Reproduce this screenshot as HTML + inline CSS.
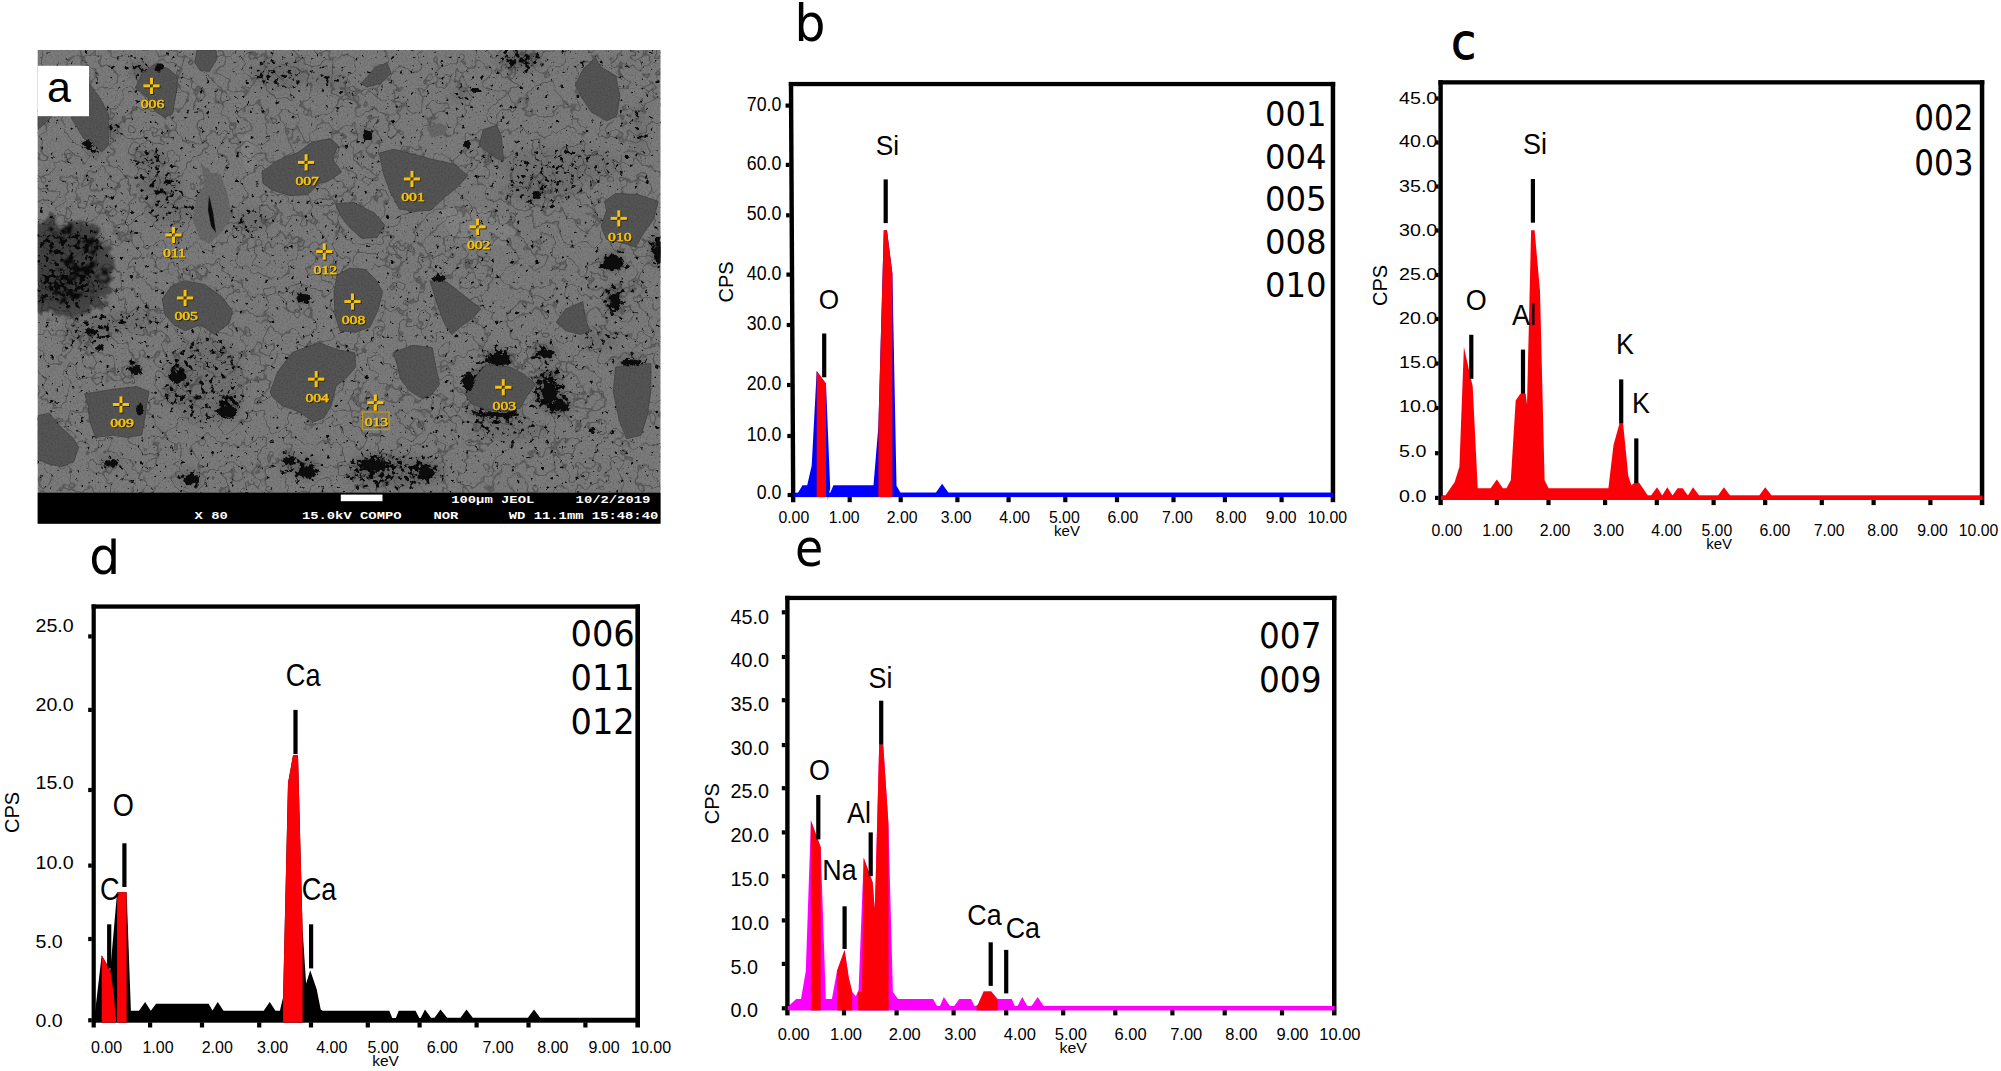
<!DOCTYPE html>
<html><head><meta charset="utf-8"><title>Figure</title>
<style>html,body{margin:0;padding:0;background:#fff;overflow:hidden}svg{display:block}text{fill:#000}</style>
</head><body>
<svg width="2001" height="1071" viewBox="0 0 2001 1071">
<rect width="2001" height="1071" fill="#fff"/>
<defs>
<clipPath id="semclip"><rect x="37.7" y="50.0" width="622.8" height="442.7"/></clipPath>
<filter id="spk" filterUnits="userSpaceOnUse" x="30" y="45" width="640" height="455" color-interpolation-filters="sRGB">
<feGaussianBlur in="SourceAlpha" stdDeviation="5" result="D"/>
<feTurbulence type="fractalNoise" baseFrequency="0.2" numOctaves="3" seed="7" result="T"/>
<feColorMatrix in="T" type="matrix" values="0 0 0 0 0  0 0 0 0 0  0 0 0 0 0  1 0 0 0 0" result="N"/>
<feComposite in="D" in2="N" operator="arithmetic" k1="0" k2="0.22" k3="0.6" k4="0" result="S"/>
<feComponentTransfer in="S"><feFuncR type="linear" slope="0" intercept="0.04"/><feFuncG type="linear" slope="0" intercept="0.04"/><feFuncB type="linear" slope="0" intercept="0.04"/><feFuncA type="linear" slope="16" intercept="-6.6"/></feComponentTransfer>
<feGaussianBlur stdDeviation="0.55"/>
</filter>
<filter id="crk" filterUnits="userSpaceOnUse" x="30" y="45" width="640" height="455" color-interpolation-filters="sRGB">
<feTurbulence type="fractalNoise" baseFrequency="0.045" numOctaves="3" seed="21" result="T"/>
<feColorMatrix in="T" type="matrix" values="0 0 0 0 0  0 0 0 0 0  0 0 0 0 0  1 0 0 0 0" result="N"/>
<feComponentTransfer in="N"><feFuncA type="table" tableValues="0 0 0 0 0 0 0 0 0 0 0 0 0 0 0 0.9 0 0 0 0 0 0 0 0 0 0 0 0 0 0 0"/></feComponentTransfer>
<feComposite in2="SourceAlpha" operator="in"/>
</filter>
<filter id="fine" filterUnits="userSpaceOnUse" x="30" y="45" width="640" height="455" color-interpolation-filters="sRGB">
<feTurbulence type="fractalNoise" baseFrequency="0.6" numOctaves="1" seed="4" result="T"/>
<feColorMatrix in="T" type="matrix" values="0 0 0 0 0  0 0 0 0 0  0 0 0 0 0  1.0 0 0 0 -0.42"/>
<feComposite in2="SourceAlpha" operator="in"/>
</filter>
<filter id="ublur" filterUnits="userSpaceOnUse" x="30" y="45" width="640" height="455"><feGaussianBlur stdDeviation="4"/></filter>
<filter id="rag" filterUnits="userSpaceOnUse" x="30" y="45" width="640" height="455">
<feTurbulence type="fractalNoise" baseFrequency="0.09" numOctaves="3" seed="11" result="T"/>
<feDisplacementMap in="SourceGraphic" in2="T" scale="30" xChannelSelector="R" yChannelSelector="G"/>
<feGaussianBlur stdDeviation="0.8"/>
</filter>
<filter id="rag2" filterUnits="userSpaceOnUse" x="30" y="45" width="640" height="455">
<feTurbulence type="fractalNoise" baseFrequency="0.25" numOctaves="2" seed="5" result="T"/>
<feDisplacementMap in="SourceGraphic" in2="T" scale="6" xChannelSelector="R" yChannelSelector="G"/>
<feGaussianBlur stdDeviation="0.7"/>
</filter>
<filter id="soft" x="-10%" y="-10%" width="120%" height="120%"><feGaussianBlur stdDeviation="0.6"/></filter>
<filter id="lblsh" x="-30%" y="-40%" width="170%" height="190%">
<feOffset in="SourceAlpha" dx="0.9" dy="0.9" result="o"/><feGaussianBlur in="o" stdDeviation="0.45" result="b"/>
<feFlood flood-color="#2a2204"/><feComposite in2="b" operator="in" result="sh"/>
<feMerge><feMergeNode in="sh"/><feMergeNode in="SourceGraphic"/></feMerge></filter>
<filter id="msh" x="-30%" y="-30%" width="160%" height="160%"><feGaussianBlur stdDeviation="0.45"/></filter>
</defs>
<g id="sem">
<rect x="37.7" y="50.0" width="622.8" height="473.7" fill="#7c7c7c"/>
<g clip-path="url(#semclip)">
<polygon points="439.0,210.0 470.0,206.0 497.0,214.0 516.0,232.0 505.0,246.0 478.0,244.0 452.0,236.0" fill="#838383"/>
<polygon points="241.0,140.0 247.0,132.0 253.0,140.0 255.0,165.0 247.0,172.0 243.0,160.0" fill="#838383"/>
<g filter="url(#rag)">
<polygon points="30.0,226.0 50.0,218.0 66.0,228.0 80.0,220.0 96.0,230.0 108.0,246.0 116.0,266.0 112.0,288.0 104.0,304.0 90.0,314.0 70.0,318.0 50.0,314.0 30.0,308.0" fill="#383838" fill-opacity="0.72"/>
<ellipse cx="80.0" cy="270.0" rx="13.0" ry="7.0" fill="#080808"/>
<ellipse cx="92.0" cy="242.0" rx="5.0" ry="7.0" fill="#080808"/>
<ellipse cx="62.0" cy="232.0" rx="9.0" ry="4.0" fill="#080808"/>
<ellipse cx="68.0" cy="296.0" rx="7.0" ry="5.0" fill="#080808"/>
<ellipse cx="104.0" cy="276.0" rx="3.0" ry="9.0" fill="#080808"/>
</g>
<g filter="url(#ublur)" opacity="0.28"><ellipse cx="66.0" cy="264.0" rx="30.0" ry="36.0" fill="#000" fill-opacity="0.40"/><ellipse cx="52.0" cy="290.0" rx="20.0" ry="16.0" fill="#000" fill-opacity="0.40"/><ellipse cx="88.0" cy="240.0" rx="16.0" ry="12.0" fill="#000" fill-opacity="0.40"/><ellipse cx="80.0" cy="287.0" rx="20.0" ry="18.0" fill="#000" fill-opacity="0.40"/><ellipse cx="48.0" cy="238.0" rx="12.0" ry="12.0" fill="#000" fill-opacity="0.30"/><ellipse cx="140.0" cy="70.0" rx="10.0" ry="8.0" fill="#000" fill-opacity="0.70"/><ellipse cx="112.0" cy="130.0" rx="8.0" ry="10.0" fill="#000" fill-opacity="0.60"/><ellipse cx="150.0" cy="160.0" rx="18.0" ry="10.0" fill="#000" fill-opacity="0.50"/><ellipse cx="160.0" cy="185.0" rx="22.0" ry="12.0" fill="#000" fill-opacity="0.45"/><ellipse cx="95.0" cy="150.0" rx="6.0" ry="5.0" fill="#000" fill-opacity="1.00"/><ellipse cx="213.0" cy="218.0" rx="5.0" ry="16.0" fill="#000" fill-opacity="1.00" transform="rotate(-10 213.0 218.0)"/><ellipse cx="205.0" cy="200.0" rx="4.0" ry="10.0" fill="#000" fill-opacity="0.70"/><ellipse cx="280.0" cy="75.0" rx="30.0" ry="14.0" fill="#000" fill-opacity="0.35"/><ellipse cx="330.0" cy="80.0" rx="18.0" ry="10.0" fill="#000" fill-opacity="0.30"/><ellipse cx="520.0" cy="60.0" rx="22.0" ry="9.0" fill="#000" fill-opacity="0.70"/><ellipse cx="460.0" cy="95.0" rx="10.0" ry="5.0" fill="#000" fill-opacity="0.50"/><ellipse cx="367.0" cy="134.0" rx="5.0" ry="5.5" fill="#000" fill-opacity="1.00"/><ellipse cx="490.0" cy="150.0" rx="5.0" ry="12.0" fill="#000" fill-opacity="0.60"/><ellipse cx="560.0" cy="165.0" rx="60.0" ry="18.0" fill="#000" fill-opacity="0.25"/><ellipse cx="540.0" cy="190.0" rx="40.0" ry="12.0" fill="#000" fill-opacity="0.30"/><ellipse cx="533.0" cy="196.0" rx="4.0" ry="4.0" fill="#000" fill-opacity="1.00"/><ellipse cx="612.0" cy="262.0" rx="11.0" ry="9.0" fill="#000" fill-opacity="1.00"/><ellipse cx="657.0" cy="250.0" rx="6.0" ry="16.0" fill="#000" fill-opacity="1.00"/><ellipse cx="640.0" cy="130.0" rx="6.0" ry="30.0" fill="#000" fill-opacity="0.30"/><ellipse cx="302.0" cy="296.0" rx="7.0" ry="5.0" fill="#000" fill-opacity="1.00"/><ellipse cx="250.0" cy="220.0" rx="20.0" ry="12.0" fill="#000" fill-opacity="0.30"/><ellipse cx="170.0" cy="210.0" rx="25.0" ry="14.0" fill="#000" fill-opacity="0.30"/><ellipse cx="134.0" cy="369.0" rx="6.0" ry="5.0" fill="#000" fill-opacity="1.00"/><ellipse cx="205.0" cy="380.0" rx="40.0" ry="45.0" fill="#000" fill-opacity="0.28"/><ellipse cx="178.0" cy="372.0" rx="10.0" ry="7.0" fill="#000" fill-opacity="0.90"/><ellipse cx="228.0" cy="408.0" rx="11.0" ry="9.0" fill="#000" fill-opacity="1.00"/><ellipse cx="170.0" cy="395.0" rx="10.0" ry="8.0" fill="#000" fill-opacity="0.40"/><ellipse cx="482.0" cy="385.0" rx="12.0" ry="18.0" fill="#000" fill-opacity="0.90"/><ellipse cx="498.0" cy="358.0" rx="14.0" ry="9.0" fill="#000" fill-opacity="1.00"/><ellipse cx="548.0" cy="390.0" rx="14.0" ry="22.0" fill="#000" fill-opacity="0.80"/><ellipse cx="560.0" cy="405.0" rx="12.0" ry="8.0" fill="#000" fill-opacity="0.90"/><ellipse cx="495.0" cy="413.0" rx="28.0" ry="5.0" fill="#000" fill-opacity="0.90"/><ellipse cx="545.0" cy="352.0" rx="12.0" ry="8.0" fill="#000" fill-opacity="0.70"/><ellipse cx="510.0" cy="430.0" rx="40.0" ry="10.0" fill="#000" fill-opacity="0.30"/><ellipse cx="395.0" cy="472.0" rx="50.0" ry="16.0" fill="#000" fill-opacity="0.50"/><ellipse cx="372.0" cy="464.0" rx="18.0" ry="9.0" fill="#000" fill-opacity="0.90"/><ellipse cx="425.0" cy="470.0" rx="12.0" ry="8.0" fill="#000" fill-opacity="0.70"/><ellipse cx="306.0" cy="471.0" rx="10.0" ry="7.0" fill="#000" fill-opacity="1.00"/><ellipse cx="288.0" cy="459.0" rx="6.0" ry="5.0" fill="#000" fill-opacity="1.00"/><ellipse cx="300.0" cy="465.0" rx="22.0" ry="10.0" fill="#000" fill-opacity="0.40"/><ellipse cx="190.0" cy="478.0" rx="12.0" ry="10.0" fill="#000" fill-opacity="0.50"/><ellipse cx="110.0" cy="462.0" rx="10.0" ry="6.0" fill="#000" fill-opacity="0.50"/><ellipse cx="90.0" cy="330.0" rx="25.0" ry="15.0" fill="#000" fill-opacity="0.35"/><ellipse cx="130.0" cy="320.0" rx="30.0" ry="10.0" fill="#000" fill-opacity="0.30"/><ellipse cx="614.0" cy="300.0" rx="9.0" ry="16.0" fill="#000" fill-opacity="0.70"/><ellipse cx="630.0" cy="362.0" rx="16.0" ry="5.0" fill="#000" fill-opacity="0.70"/><ellipse cx="600.0" cy="340.0" rx="20.0" ry="10.0" fill="#000" fill-opacity="0.30"/></g>
<g filter="url(#spk)"><rect x="30" y="45" width="640" height="455" fill="#fff" fill-opacity="0.0"/><ellipse cx="66.0" cy="264.0" rx="30.0" ry="36.0" fill="#fff" fill-opacity="0.40"/><ellipse cx="52.0" cy="290.0" rx="20.0" ry="16.0" fill="#fff" fill-opacity="0.40"/><ellipse cx="88.0" cy="240.0" rx="16.0" ry="12.0" fill="#fff" fill-opacity="0.40"/><ellipse cx="80.0" cy="287.0" rx="20.0" ry="18.0" fill="#fff" fill-opacity="0.40"/><ellipse cx="48.0" cy="238.0" rx="12.0" ry="12.0" fill="#fff" fill-opacity="0.30"/><ellipse cx="140.0" cy="70.0" rx="10.0" ry="8.0" fill="#fff" fill-opacity="0.70"/><ellipse cx="112.0" cy="130.0" rx="8.0" ry="10.0" fill="#fff" fill-opacity="0.60"/><ellipse cx="150.0" cy="160.0" rx="18.0" ry="10.0" fill="#fff" fill-opacity="0.50"/><ellipse cx="160.0" cy="185.0" rx="22.0" ry="12.0" fill="#fff" fill-opacity="0.45"/><ellipse cx="95.0" cy="150.0" rx="6.0" ry="5.0" fill="#fff" fill-opacity="1.00"/><ellipse cx="213.0" cy="218.0" rx="5.0" ry="16.0" fill="#fff" fill-opacity="1.00" transform="rotate(-10 213.0 218.0)"/><ellipse cx="205.0" cy="200.0" rx="4.0" ry="10.0" fill="#fff" fill-opacity="0.70"/><ellipse cx="280.0" cy="75.0" rx="30.0" ry="14.0" fill="#fff" fill-opacity="0.35"/><ellipse cx="330.0" cy="80.0" rx="18.0" ry="10.0" fill="#fff" fill-opacity="0.30"/><ellipse cx="520.0" cy="60.0" rx="22.0" ry="9.0" fill="#fff" fill-opacity="0.70"/><ellipse cx="460.0" cy="95.0" rx="10.0" ry="5.0" fill="#fff" fill-opacity="0.50"/><ellipse cx="367.0" cy="134.0" rx="5.0" ry="5.5" fill="#fff" fill-opacity="1.00"/><ellipse cx="490.0" cy="150.0" rx="5.0" ry="12.0" fill="#fff" fill-opacity="0.60"/><ellipse cx="560.0" cy="165.0" rx="60.0" ry="18.0" fill="#fff" fill-opacity="0.25"/><ellipse cx="540.0" cy="190.0" rx="40.0" ry="12.0" fill="#fff" fill-opacity="0.30"/><ellipse cx="533.0" cy="196.0" rx="4.0" ry="4.0" fill="#fff" fill-opacity="1.00"/><ellipse cx="612.0" cy="262.0" rx="11.0" ry="9.0" fill="#fff" fill-opacity="1.00"/><ellipse cx="657.0" cy="250.0" rx="6.0" ry="16.0" fill="#fff" fill-opacity="1.00"/><ellipse cx="640.0" cy="130.0" rx="6.0" ry="30.0" fill="#fff" fill-opacity="0.30"/><ellipse cx="302.0" cy="296.0" rx="7.0" ry="5.0" fill="#fff" fill-opacity="1.00"/><ellipse cx="250.0" cy="220.0" rx="20.0" ry="12.0" fill="#fff" fill-opacity="0.30"/><ellipse cx="170.0" cy="210.0" rx="25.0" ry="14.0" fill="#fff" fill-opacity="0.30"/><ellipse cx="134.0" cy="369.0" rx="6.0" ry="5.0" fill="#fff" fill-opacity="1.00"/><ellipse cx="205.0" cy="380.0" rx="40.0" ry="45.0" fill="#fff" fill-opacity="0.28"/><ellipse cx="178.0" cy="372.0" rx="10.0" ry="7.0" fill="#fff" fill-opacity="0.90"/><ellipse cx="228.0" cy="408.0" rx="11.0" ry="9.0" fill="#fff" fill-opacity="1.00"/><ellipse cx="170.0" cy="395.0" rx="10.0" ry="8.0" fill="#fff" fill-opacity="0.40"/><ellipse cx="482.0" cy="385.0" rx="12.0" ry="18.0" fill="#fff" fill-opacity="0.90"/><ellipse cx="498.0" cy="358.0" rx="14.0" ry="9.0" fill="#fff" fill-opacity="1.00"/><ellipse cx="548.0" cy="390.0" rx="14.0" ry="22.0" fill="#fff" fill-opacity="0.80"/><ellipse cx="560.0" cy="405.0" rx="12.0" ry="8.0" fill="#fff" fill-opacity="0.90"/><ellipse cx="495.0" cy="413.0" rx="28.0" ry="5.0" fill="#fff" fill-opacity="0.90"/><ellipse cx="545.0" cy="352.0" rx="12.0" ry="8.0" fill="#fff" fill-opacity="0.70"/><ellipse cx="510.0" cy="430.0" rx="40.0" ry="10.0" fill="#fff" fill-opacity="0.30"/><ellipse cx="395.0" cy="472.0" rx="50.0" ry="16.0" fill="#fff" fill-opacity="0.50"/><ellipse cx="372.0" cy="464.0" rx="18.0" ry="9.0" fill="#fff" fill-opacity="0.90"/><ellipse cx="425.0" cy="470.0" rx="12.0" ry="8.0" fill="#fff" fill-opacity="0.70"/><ellipse cx="306.0" cy="471.0" rx="10.0" ry="7.0" fill="#fff" fill-opacity="1.00"/><ellipse cx="288.0" cy="459.0" rx="6.0" ry="5.0" fill="#fff" fill-opacity="1.00"/><ellipse cx="300.0" cy="465.0" rx="22.0" ry="10.0" fill="#fff" fill-opacity="0.40"/><ellipse cx="190.0" cy="478.0" rx="12.0" ry="10.0" fill="#fff" fill-opacity="0.50"/><ellipse cx="110.0" cy="462.0" rx="10.0" ry="6.0" fill="#fff" fill-opacity="0.50"/><ellipse cx="90.0" cy="330.0" rx="25.0" ry="15.0" fill="#fff" fill-opacity="0.35"/><ellipse cx="130.0" cy="320.0" rx="30.0" ry="10.0" fill="#fff" fill-opacity="0.30"/><ellipse cx="614.0" cy="300.0" rx="9.0" ry="16.0" fill="#fff" fill-opacity="0.70"/><ellipse cx="630.0" cy="362.0" rx="16.0" ry="5.0" fill="#fff" fill-opacity="0.70"/><ellipse cx="600.0" cy="340.0" rx="20.0" ry="10.0" fill="#fff" fill-opacity="0.30"/></g>
<rect x="30" y="45" width="640" height="455" fill="#000" filter="url(#crk)" opacity="0.33"/>
<g filter="url(#soft)">
<polygon points="89.4,83.7 100.0,98.0 108.4,114.0 108.4,145.3 101.7,152.0 95.0,145.3 83.8,138.6 71.5,118.4 75.0,100.0" fill="#555555" stroke="#444" stroke-width="0.8" stroke-linejoin="round"/>
<polygon points="37.7,116.2 52.4,116.2 44.0,124.0 37.7,129.6" fill="#555555" stroke="#444" stroke-width="0.8" stroke-linejoin="round"/>
<polygon points="142.0,73.6 155.5,63.5 168.9,69.1 177.9,77.0 175.7,96.0 172.3,114.0 164.5,117.3 155.5,111.7 146.5,96.0 135.3,88.2" fill="#555555" stroke="#444" stroke-width="0.8" stroke-linejoin="round"/>
<polygon points="197.0,50.0 216.0,50.0 217.0,59.0 209.3,71.4 200.3,70.3 194.7,62.4" fill="#555555" stroke="#444" stroke-width="0.8" stroke-linejoin="round"/>
<polygon points="261.9,172.2 276.5,161.0 298.9,152.0 312.4,142.0 330.3,138.6 338.1,145.3 332.5,158.8 341.5,172.2 328.0,181.2 319.1,183.4 307.9,194.6 290.0,195.7 272.0,190.1 263.0,183.4" fill="#555555" stroke="#444" stroke-width="0.8" stroke-linejoin="round"/>
<polygon points="335.4,203.5 353.4,202.5 374.6,213.0 384.6,225.0 377.0,237.5 362.0,238.5 349.5,227.4 340.0,215.0" fill="#555555" stroke="#444" stroke-width="0.8" stroke-linejoin="round"/>
<polygon points="379.2,153.1 393.8,149.3 413.9,154.3 429.6,158.7 454.3,164.3 467.7,175.5 456.5,187.9 445.3,196.8 430.7,210.3 413.9,211.4 399.4,209.1 390.4,192.3 383.7,174.4" fill="#555555" stroke="#444" stroke-width="0.8" stroke-linejoin="round"/>
<polygon points="361.3,83.7 373.6,69.1 387.0,62.4 391.1,73.6 380.3,83.7 366.9,87.0" fill="#555555" stroke="#444" stroke-width="0.8" stroke-linejoin="round"/>
<polygon points="583.1,69.1 595.4,57.9 601.0,66.9 615.6,75.8 620.0,96.0 616.7,116.2 606.6,120.7 590.9,111.7 580.8,96.0 575.2,84.8" fill="#555555" stroke="#444" stroke-width="0.8" stroke-linejoin="round"/>
<polygon points="604.4,201.3 615.6,193.5 638.0,194.6 658.1,201.3 653.7,219.2 642.5,234.9 635.7,247.2 622.3,242.7 606.6,239.4 601.0,226.0 606.6,210.3" fill="#555555" stroke="#444" stroke-width="0.8" stroke-linejoin="round"/>
<polygon points="483.4,129.6 496.8,125.1 501.3,136.3 503.5,161.0 496.8,158.7 478.9,145.3" fill="#555555" stroke="#444" stroke-width="0.8" stroke-linejoin="round"/>
<polygon points="162.3,299.1 170.8,287.0 185.4,280.9 204.8,284.6 221.8,296.7 232.7,311.3 229.1,323.4 214.5,334.3 200.0,324.6 185.4,330.7 173.2,324.6 164.7,313.7" fill="#555555" stroke="#444" stroke-width="0.8" stroke-linejoin="round"/>
<polygon points="84.6,393.8 115.0,389.0 136.8,386.5 149.0,391.4 146.5,406.0 144.1,420.5 141.7,435.1 127.1,437.5 112.5,435.1 95.5,437.5 89.5,420.5 88.3,406.0" fill="#555555" stroke="#444" stroke-width="0.8" stroke-linejoin="round"/>
<polygon points="37.7,415.7 49.4,413.2 59.1,425.4 72.5,437.5 78.6,447.2 73.7,461.8 61.6,466.7 49.4,464.2 37.7,459.4" fill="#555555" stroke="#444" stroke-width="0.8" stroke-linejoin="round"/>
<polygon points="270.3,391.4 277.6,372.0 292.2,352.5 318.9,342.8 338.3,350.1 354.6,352.6 355.8,367.1 347.3,376.8 336.0,386.5 331.0,406.0 323.8,418.1 314.0,421.7 297.0,410.8 282.5,406.0 271.6,396.2" fill="#555555" stroke="#444" stroke-width="0.8" stroke-linejoin="round"/>
<polygon points="334.0,292.0 337.0,275.0 350.0,268.0 366.0,270.0 376.0,280.0 382.5,292.0 378.0,310.0 370.0,327.0 356.0,332.0 340.0,331.0 335.0,315.0" fill="#555555" stroke="#444" stroke-width="0.8" stroke-linejoin="round"/>
<polygon points="429.9,280.9 446.8,282.1 468.7,299.1 480.8,308.9 472.3,318.6 461.4,325.9 451.7,334.4 444.4,323.4 437.1,304.0 433.5,291.9" fill="#555555" stroke="#444" stroke-width="0.8" stroke-linejoin="round"/>
<polygon points="393.4,352.6 412.8,345.3 432.3,347.7 435.9,367.1 439.6,384.1 432.3,393.8 422.6,398.7 410.4,391.4 400.7,379.3 397.1,364.7" fill="#555555" stroke="#444" stroke-width="0.8" stroke-linejoin="round"/>
<polygon points="465.0,393.8 476.0,376.8 485.7,364.7 510.0,367.1 524.6,374.4 535.5,384.1 527.0,396.3 519.7,408.4 505.1,412.0 485.7,409.6 471.1,403.5" fill="#555555" stroke="#444" stroke-width="0.8" stroke-linejoin="round"/>
<polygon points="556.1,322.2 565.8,308.9 582.8,301.6 585.3,318.6 590.1,330.7 580.4,334.4 565.8,330.7" fill="#555555" stroke="#444" stroke-width="0.8" stroke-linejoin="round"/>
<polygon points="615.6,367.1 631.4,365.9 650.8,363.5 650.8,391.4 647.2,415.7 641.1,435.1 626.5,438.8 619.3,420.6 613.2,391.4" fill="#555555" stroke="#444" stroke-width="0.8" stroke-linejoin="round"/>
<polygon points="200.3,162.1 209.3,172.2 220.5,174.5 227.2,192.4 231.7,217.0 222.7,230.5 209.3,243.9 200.3,239.4 192.5,219.3 197.0,196.9 204.8,183.4" fill="#676767"/>
<polygon points="426.3,127.4 438.6,122.9 447.5,126.2 445.3,134.1 431.9,137.5" fill="#676767"/>
<path d="M209 195 L213 212 L216 233 L211 226 L208 210 Z" fill="#111"/>
</g>
<g filter="url(#rag2)">
<ellipse cx="368.0" cy="135.5" rx="5.0" ry="5.5" fill="#0a0a0a"/>
<ellipse cx="303.5" cy="297.5" rx="7.0" ry="4.5" fill="#0a0a0a"/>
<ellipse cx="135.5" cy="370.5" rx="6.0" ry="4.5" fill="#0a0a0a"/>
<ellipse cx="307.5" cy="472.5" rx="9.0" ry="6.0" fill="#0a0a0a"/>
<ellipse cx="288.5" cy="460.5" rx="5.0" ry="4.0" fill="#0a0a0a"/>
<ellipse cx="613.5" cy="263.5" rx="10.0" ry="7.0" fill="#0a0a0a"/>
<ellipse cx="658.5" cy="251.5" rx="3.5" ry="13.0" fill="#0a0a0a"/>
<ellipse cx="159.5" cy="67.5" rx="4.0" ry="4.0" fill="#0a0a0a"/>
<ellipse cx="87.5" cy="144.5" rx="5.0" ry="4.5" fill="#0a0a0a"/>
<ellipse cx="537.0" cy="194.5" rx="3.0" ry="3.5" fill="#0a0a0a"/>
<ellipse cx="476.5" cy="90.5" rx="5.0" ry="2.5" fill="#0a0a0a"/>
<ellipse cx="467.5" cy="144.5" rx="3.5" ry="4.5" fill="#0a0a0a"/>
<ellipse cx="499.5" cy="359.5" rx="10.0" ry="6.0" fill="#0a0a0a"/>
<ellipse cx="468.5" cy="381.5" rx="6.0" ry="10.0" fill="#0a0a0a"/>
<ellipse cx="549.5" cy="393.5" rx="7.0" ry="11.0" fill="#0a0a0a"/>
<ellipse cx="227.5" cy="411.5" rx="10.0" ry="6.0" fill="#0a0a0a"/>
<ellipse cx="177.5" cy="377.5" rx="8.0" ry="4.5" fill="#0a0a0a"/>
<ellipse cx="139.5" cy="409.5" rx="3.5" ry="6.0" fill="#0a0a0a"/>
<ellipse cx="439.5" cy="278.5" rx="7.0" ry="3.5" fill="#0a0a0a"/>
<ellipse cx="591.5" cy="430.5" rx="3.0" ry="3.0" fill="#0a0a0a"/>
<ellipse cx="561.5" cy="406.5" rx="8.0" ry="5.0" fill="#0a0a0a"/>
<ellipse cx="373.5" cy="465.5" rx="12.0" ry="6.0" fill="#0a0a0a"/>
<ellipse cx="426.5" cy="471.5" rx="8.0" ry="5.0" fill="#0a0a0a"/>
<ellipse cx="191.5" cy="479.5" rx="7.0" ry="5.0" fill="#0a0a0a"/>
<ellipse cx="615.5" cy="301.5" rx="5.0" ry="9.0" fill="#0a0a0a"/>
<ellipse cx="631.5" cy="362.5" rx="10.0" ry="3.0" fill="#0a0a0a"/>
<ellipse cx="496.5" cy="414.5" rx="22.0" ry="2.5" fill="#0a0a0a"/>
<ellipse cx="111.5" cy="463.5" rx="7.0" ry="3.5" fill="#0a0a0a"/>
<ellipse cx="91.5" cy="331.5" rx="6.0" ry="4.0" fill="#0a0a0a"/>
<ellipse cx="99.5" cy="347.5" rx="4.0" ry="3.5" fill="#0a0a0a"/>
<ellipse cx="546.5" cy="353.5" rx="8.0" ry="4.0" fill="#0a0a0a"/>
</g>
<rect x="30" y="45" width="640" height="455" fill="#000" filter="url(#fine)" opacity="0.4"/>
</g>
<g filter="url(#msh)"><rect x="144.3" y="85.3" width="6.6" height="3.0" fill="#2a2204"/><rect x="153.9" y="85.3" width="6.6" height="3.0" fill="#2a2204"/><rect x="150.9" y="78.7" width="3.0" height="6.6" fill="#2a2204"/><rect x="150.9" y="88.3" width="3.0" height="6.6" fill="#2a2204"/></g>
<rect x="143.4" y="84.4" width="6.6" height="3.0" fill="#f6c20a"/><rect x="153.0" y="84.4" width="6.6" height="3.0" fill="#f6c20a"/><rect x="150.0" y="77.8" width="3.0" height="6.6" fill="#f6c20a"/><rect x="150.0" y="87.4" width="3.0" height="6.6" fill="#f6c20a"/>
<g filter="url(#lblsh)"><text transform="translate(152.5 108.3) scale(1.3 1)" font-size="12" text-anchor="middle" font-family='"Liberation Serif", "DejaVu Serif", serif' style="fill:#f6c20a;stroke:#f6c20a;stroke-width:0.45px">006</text></g>
<g filter="url(#msh)"><rect x="298.9" y="161.8" width="6.6" height="3.0" fill="#2a2204"/><rect x="308.5" y="161.8" width="6.6" height="3.0" fill="#2a2204"/><rect x="305.5" y="155.2" width="3.0" height="6.6" fill="#2a2204"/><rect x="305.5" y="164.8" width="3.0" height="6.6" fill="#2a2204"/></g>
<rect x="298.0" y="160.9" width="6.6" height="3.0" fill="#f6c20a"/><rect x="307.6" y="160.9" width="6.6" height="3.0" fill="#f6c20a"/><rect x="304.6" y="154.3" width="3.0" height="6.6" fill="#f6c20a"/><rect x="304.6" y="163.9" width="3.0" height="6.6" fill="#f6c20a"/>
<g filter="url(#lblsh)"><text transform="translate(307.1 184.8) scale(1.3 1)" font-size="12" text-anchor="middle" font-family='"Liberation Serif", "DejaVu Serif", serif' style="fill:#f6c20a;stroke:#f6c20a;stroke-width:0.45px">007</text></g>
<g filter="url(#msh)"><rect x="404.8" y="178.4" width="6.6" height="3.0" fill="#2a2204"/><rect x="414.4" y="178.4" width="6.6" height="3.0" fill="#2a2204"/><rect x="411.4" y="171.8" width="3.0" height="6.6" fill="#2a2204"/><rect x="411.4" y="181.4" width="3.0" height="6.6" fill="#2a2204"/></g>
<rect x="403.9" y="177.5" width="6.6" height="3.0" fill="#f6c20a"/><rect x="413.5" y="177.5" width="6.6" height="3.0" fill="#f6c20a"/><rect x="410.5" y="170.9" width="3.0" height="6.6" fill="#f6c20a"/><rect x="410.5" y="180.5" width="3.0" height="6.6" fill="#f6c20a"/>
<g filter="url(#lblsh)"><text transform="translate(413.0 201.4) scale(1.3 1)" font-size="12" text-anchor="middle" font-family='"Liberation Serif", "DejaVu Serif", serif' style="fill:#f6c20a;stroke:#f6c20a;stroke-width:0.45px">001</text></g>
<g filter="url(#msh)"><rect x="470.4" y="226.3" width="6.6" height="3.0" fill="#2a2204"/><rect x="480.0" y="226.3" width="6.6" height="3.0" fill="#2a2204"/><rect x="477.0" y="219.7" width="3.0" height="6.6" fill="#2a2204"/><rect x="477.0" y="229.3" width="3.0" height="6.6" fill="#2a2204"/></g>
<rect x="469.5" y="225.4" width="6.6" height="3.0" fill="#f6c20a"/><rect x="479.1" y="225.4" width="6.6" height="3.0" fill="#f6c20a"/><rect x="476.1" y="218.8" width="3.0" height="6.6" fill="#f6c20a"/><rect x="476.1" y="228.4" width="3.0" height="6.6" fill="#f6c20a"/>
<g filter="url(#lblsh)"><text transform="translate(478.6 249.3) scale(1.3 1)" font-size="12" text-anchor="middle" font-family='"Liberation Serif", "DejaVu Serif", serif' style="fill:#f6c20a;stroke:#f6c20a;stroke-width:0.45px">002</text></g>
<g filter="url(#msh)"><rect x="611.6" y="217.8" width="6.6" height="3.0" fill="#2a2204"/><rect x="621.2" y="217.8" width="6.6" height="3.0" fill="#2a2204"/><rect x="618.2" y="211.2" width="3.0" height="6.6" fill="#2a2204"/><rect x="618.2" y="220.8" width="3.0" height="6.6" fill="#2a2204"/></g>
<rect x="610.7" y="216.9" width="6.6" height="3.0" fill="#f6c20a"/><rect x="620.3" y="216.9" width="6.6" height="3.0" fill="#f6c20a"/><rect x="617.3" y="210.3" width="3.0" height="6.6" fill="#f6c20a"/><rect x="617.3" y="219.9" width="3.0" height="6.6" fill="#f6c20a"/>
<g filter="url(#lblsh)"><text transform="translate(619.8 240.8) scale(1.3 1)" font-size="12" text-anchor="middle" font-family='"Liberation Serif", "DejaVu Serif", serif' style="fill:#f6c20a;stroke:#f6c20a;stroke-width:0.45px">010</text></g>
<g filter="url(#msh)"><rect x="166.3" y="234.4" width="6.6" height="3.0" fill="#2a2204"/><rect x="175.9" y="234.4" width="6.6" height="3.0" fill="#2a2204"/><rect x="172.9" y="227.8" width="3.0" height="6.6" fill="#2a2204"/><rect x="172.9" y="237.4" width="3.0" height="6.6" fill="#2a2204"/></g>
<rect x="165.4" y="233.5" width="6.6" height="3.0" fill="#f6c20a"/><rect x="175.0" y="233.5" width="6.6" height="3.0" fill="#f6c20a"/><rect x="172.0" y="226.9" width="3.0" height="6.6" fill="#f6c20a"/><rect x="172.0" y="236.5" width="3.0" height="6.6" fill="#f6c20a"/>
<g filter="url(#lblsh)"><text transform="translate(174.5 257.4) scale(1.3 1)" font-size="12" text-anchor="middle" font-family='"Liberation Serif", "DejaVu Serif", serif' style="fill:#f6c20a;stroke:#f6c20a;stroke-width:0.45px">011</text></g>
<g filter="url(#msh)"><rect x="317.1" y="251.0" width="6.6" height="3.0" fill="#2a2204"/><rect x="326.7" y="251.0" width="6.6" height="3.0" fill="#2a2204"/><rect x="323.7" y="244.4" width="3.0" height="6.6" fill="#2a2204"/><rect x="323.7" y="254.0" width="3.0" height="6.6" fill="#2a2204"/></g>
<rect x="316.2" y="250.1" width="6.6" height="3.0" fill="#f6c20a"/><rect x="325.8" y="250.1" width="6.6" height="3.0" fill="#f6c20a"/><rect x="322.8" y="243.5" width="3.0" height="6.6" fill="#f6c20a"/><rect x="322.8" y="253.1" width="3.0" height="6.6" fill="#f6c20a"/>
<g filter="url(#lblsh)"><text transform="translate(325.3 274.0) scale(1.3 1)" font-size="12" text-anchor="middle" font-family='"Liberation Serif", "DejaVu Serif", serif' style="fill:#f6c20a;stroke:#f6c20a;stroke-width:0.45px">012</text></g>
<g filter="url(#msh)"><rect x="177.9" y="297.4" width="6.6" height="3.0" fill="#2a2204"/><rect x="187.5" y="297.4" width="6.6" height="3.0" fill="#2a2204"/><rect x="184.5" y="290.8" width="3.0" height="6.6" fill="#2a2204"/><rect x="184.5" y="300.4" width="3.0" height="6.6" fill="#2a2204"/></g>
<rect x="177.0" y="296.5" width="6.6" height="3.0" fill="#f6c20a"/><rect x="186.6" y="296.5" width="6.6" height="3.0" fill="#f6c20a"/><rect x="183.6" y="289.9" width="3.0" height="6.6" fill="#f6c20a"/><rect x="183.6" y="299.5" width="3.0" height="6.6" fill="#f6c20a"/>
<g filter="url(#lblsh)"><text transform="translate(186.1 320.4) scale(1.3 1)" font-size="12" text-anchor="middle" font-family='"Liberation Serif", "DejaVu Serif", serif' style="fill:#f6c20a;stroke:#f6c20a;stroke-width:0.45px">005</text></g>
<g filter="url(#msh)"><rect x="345.3" y="301.0" width="6.6" height="3.0" fill="#2a2204"/><rect x="354.9" y="301.0" width="6.6" height="3.0" fill="#2a2204"/><rect x="351.9" y="294.4" width="3.0" height="6.6" fill="#2a2204"/><rect x="351.9" y="304.0" width="3.0" height="6.6" fill="#2a2204"/></g>
<rect x="344.4" y="300.1" width="6.6" height="3.0" fill="#f6c20a"/><rect x="354.0" y="300.1" width="6.6" height="3.0" fill="#f6c20a"/><rect x="351.0" y="293.5" width="3.0" height="6.6" fill="#f6c20a"/><rect x="351.0" y="303.1" width="3.0" height="6.6" fill="#f6c20a"/>
<g filter="url(#lblsh)"><text transform="translate(353.5 324.0) scale(1.3 1)" font-size="12" text-anchor="middle" font-family='"Liberation Serif", "DejaVu Serif", serif' style="fill:#f6c20a;stroke:#f6c20a;stroke-width:0.45px">008</text></g>
<g filter="url(#msh)"><rect x="309.0" y="378.6" width="6.6" height="3.0" fill="#2a2204"/><rect x="318.6" y="378.6" width="6.6" height="3.0" fill="#2a2204"/><rect x="315.6" y="372.0" width="3.0" height="6.6" fill="#2a2204"/><rect x="315.6" y="381.6" width="3.0" height="6.6" fill="#2a2204"/></g>
<rect x="308.1" y="377.7" width="6.6" height="3.0" fill="#f6c20a"/><rect x="317.7" y="377.7" width="6.6" height="3.0" fill="#f6c20a"/><rect x="314.7" y="371.1" width="3.0" height="6.6" fill="#f6c20a"/><rect x="314.7" y="380.7" width="3.0" height="6.6" fill="#f6c20a"/>
<g filter="url(#lblsh)"><text transform="translate(317.2 401.6) scale(1.3 1)" font-size="12" text-anchor="middle" font-family='"Liberation Serif", "DejaVu Serif", serif' style="fill:#f6c20a;stroke:#f6c20a;stroke-width:0.45px">004</text></g>
<g filter="url(#msh)"><rect x="496.1" y="386.7" width="6.6" height="3.0" fill="#2a2204"/><rect x="505.7" y="386.7" width="6.6" height="3.0" fill="#2a2204"/><rect x="502.7" y="380.1" width="3.0" height="6.6" fill="#2a2204"/><rect x="502.7" y="389.7" width="3.0" height="6.6" fill="#2a2204"/></g>
<rect x="495.2" y="385.8" width="6.6" height="3.0" fill="#f6c20a"/><rect x="504.8" y="385.8" width="6.6" height="3.0" fill="#f6c20a"/><rect x="501.8" y="379.2" width="3.0" height="6.6" fill="#f6c20a"/><rect x="501.8" y="388.8" width="3.0" height="6.6" fill="#f6c20a"/>
<g filter="url(#lblsh)"><text transform="translate(504.3 409.7) scale(1.3 1)" font-size="12" text-anchor="middle" font-family='"Liberation Serif", "DejaVu Serif", serif' style="fill:#f6c20a;stroke:#f6c20a;stroke-width:0.45px">003</text></g>
<g filter="url(#msh)"><rect x="113.8" y="403.9" width="6.6" height="3.0" fill="#2a2204"/><rect x="123.4" y="403.9" width="6.6" height="3.0" fill="#2a2204"/><rect x="120.4" y="397.3" width="3.0" height="6.6" fill="#2a2204"/><rect x="120.4" y="406.9" width="3.0" height="6.6" fill="#2a2204"/></g>
<rect x="112.9" y="403.0" width="6.6" height="3.0" fill="#f6c20a"/><rect x="122.5" y="403.0" width="6.6" height="3.0" fill="#f6c20a"/><rect x="119.5" y="396.4" width="3.0" height="6.6" fill="#f6c20a"/><rect x="119.5" y="406.0" width="3.0" height="6.6" fill="#f6c20a"/>
<g filter="url(#lblsh)"><text transform="translate(122.0 426.9) scale(1.3 1)" font-size="12" text-anchor="middle" font-family='"Liberation Serif", "DejaVu Serif", serif' style="fill:#f6c20a;stroke:#f6c20a;stroke-width:0.45px">009</text></g>
<g filter="url(#msh)"><rect x="368.2" y="402.1" width="6.6" height="3.0" fill="#2a2204"/><rect x="377.8" y="402.1" width="6.6" height="3.0" fill="#2a2204"/><rect x="374.8" y="395.5" width="3.0" height="6.6" fill="#2a2204"/><rect x="374.8" y="405.1" width="3.0" height="6.6" fill="#2a2204"/></g>
<rect x="367.3" y="401.2" width="6.6" height="3.0" fill="#f6c20a"/><rect x="376.9" y="401.2" width="6.6" height="3.0" fill="#f6c20a"/><rect x="373.9" y="394.6" width="3.0" height="6.6" fill="#f6c20a"/><rect x="373.9" y="404.2" width="3.0" height="6.6" fill="#f6c20a"/>
<g filter="url(#lblsh)"><text transform="translate(376.4 425.9) scale(1.3 1)" font-size="12" text-anchor="middle" font-family='"Liberation Serif", "DejaVu Serif", serif' style="fill:#f6c20a;stroke:#f6c20a;stroke-width:0.45px">013</text></g>
<rect x="362.5" y="412.0" width="26.6" height="17.5" fill="none" stroke="#c39a0c" stroke-width="1.2"/>
<rect x="37.7" y="65.8" width="51.3" height="50.4" fill="#fff"/>
<text x="47.0" y="101.6" font-size="43.0" text-anchor="start" font-family='"Liberation Sans", sans-serif' >a</text>
<rect x="37.7" y="492.7" width="622.8" height="31.0" fill="#000"/>
<rect x="340.8" y="494.6" width="41.7" height="6.6" fill="#fff"/>
<text transform="translate(451.2 503.1) scale(1.215 1)" font-size="11.4" font-weight="bold" font-family='"Liberation Mono", "DejaVu Sans Mono", monospace' style="fill:#fff" xml:space="preserve">100µm JEOL</text>
<text transform="translate(575.6 503.1) scale(1.215 1)" font-size="11.4" font-weight="bold" font-family='"Liberation Mono", "DejaVu Sans Mono", monospace' style="fill:#fff" xml:space="preserve">10/2/2019</text>
<text transform="translate(194.6 518.9) scale(1.215 1)" font-size="11.4" font-weight="bold" font-family='"Liberation Mono", "DejaVu Sans Mono", monospace' style="fill:#fff" xml:space="preserve">X 80</text>
<text transform="translate(301.9 518.9) scale(1.215 1)" font-size="11.4" font-weight="bold" font-family='"Liberation Mono", "DejaVu Sans Mono", monospace' style="fill:#fff" xml:space="preserve">15.0kV COMPO</text>
<text transform="translate(433.5 518.9) scale(1.215 1)" font-size="11.4" font-weight="bold" font-family='"Liberation Mono", "DejaVu Sans Mono", monospace' style="fill:#fff" xml:space="preserve">NOR</text>
<text transform="translate(508.8 518.9) scale(1.215 1)" font-size="11.4" font-weight="bold" font-family='"Liberation Mono", "DejaVu Sans Mono", monospace' style="fill:#fff" xml:space="preserve">WD 11.1mm 15:48:40</text>
</g>
<g>
<polygon points="793.5,497.1 793.7,493.2 797.7,493.2 802.5,485.2 807.2,485.2 811.7,465.4 816.7,371.0 826.0,383.7 830.2,488.4 827.0,500.6 833.4,485.2 873.5,485.2 878.4,426.0 883.8,230.3 887.0,230.3 892.4,273.5 896.5,485.7 900.5,492.7 935.8,492.7 942.1,483.7 948.5,492.7 1333.0,492.7 1333.0,497.1" fill="#0000fe"/>
<polygon points="816.7,497.1 816.7,371.0 826.0,383.7 826.0,497.1" fill="#fb0007"/>
<polygon points="878.4,497.1 878.4,426.0 883.8,230.3 887.0,230.3 892.4,273.5 892.4,497.1" fill="#fb0007"/>
<polygon points="788.8,81.9 793.2,81.9 795.4,502.2 791.0,502.2" fill="#000"/>
<rect x="788.8" y="81.9" width="546.4" height="4.3" fill="#000"/>
<rect x="1330.7" y="81.9" width="4.5" height="420.3" fill="#000"/>
<rect x="793.6" y="492.7" width="539.8" height="4.4" fill="#0000fe"/>
<rect x="816.7" y="491.7" width="9.3" height="5.4" fill="#fb0007"/>
<rect x="878.4" y="491.7" width="14.0" height="5.4" fill="#fb0007"/>
<rect x="847.6" y="497.1" width="4.2" height="5.1" fill="#000"/>
<rect x="898.6" y="497.1" width="4.2" height="5.1" fill="#000"/>
<rect x="955.3" y="497.1" width="4.2" height="5.1" fill="#000"/>
<rect x="1006.5" y="497.1" width="4.2" height="5.1" fill="#000"/>
<rect x="1063.2" y="497.1" width="4.2" height="5.1" fill="#000"/>
<rect x="1114.9" y="497.1" width="4.2" height="5.1" fill="#000"/>
<rect x="1171.4" y="497.1" width="4.2" height="5.1" fill="#000"/>
<rect x="1222.8" y="497.1" width="4.2" height="5.1" fill="#000"/>
<rect x="1279.5" y="497.1" width="4.2" height="5.1" fill="#000"/>
<text transform="translate(793.8 523.2) scale(0.970 1)" font-size="16.3" text-anchor="middle" font-family='"Liberation Sans", sans-serif' >0.00</text>
<text transform="translate(844.2 523.2) scale(0.970 1)" font-size="16.3" text-anchor="middle" font-family='"Liberation Sans", sans-serif' >1.00</text>
<text transform="translate(902.2 523.2) scale(0.970 1)" font-size="16.3" text-anchor="middle" font-family='"Liberation Sans", sans-serif' >2.00</text>
<text transform="translate(956.2 523.2) scale(0.970 1)" font-size="16.3" text-anchor="middle" font-family='"Liberation Sans", sans-serif' >3.00</text>
<text transform="translate(1014.6 523.2) scale(0.970 1)" font-size="16.3" text-anchor="middle" font-family='"Liberation Sans", sans-serif' >4.00</text>
<text transform="translate(1064.3 523.2) scale(0.970 1)" font-size="16.3" text-anchor="middle" font-family='"Liberation Sans", sans-serif' >5.00</text>
<text transform="translate(1122.8 523.2) scale(0.970 1)" font-size="16.3" text-anchor="middle" font-family='"Liberation Sans", sans-serif' >6.00</text>
<text transform="translate(1177.3 523.2) scale(0.970 1)" font-size="16.3" text-anchor="middle" font-family='"Liberation Sans", sans-serif' >7.00</text>
<text transform="translate(1231.1 523.2) scale(0.970 1)" font-size="16.3" text-anchor="middle" font-family='"Liberation Sans", sans-serif' >8.00</text>
<text transform="translate(1281.1 523.2) scale(0.970 1)" font-size="16.3" text-anchor="middle" font-family='"Liberation Sans", sans-serif' >9.00</text>
<text transform="translate(1327.2 523.2) scale(0.970 1)" font-size="16.3" text-anchor="middle" font-family='"Liberation Sans", sans-serif' >10.00</text>
<text transform="translate(1067.0 535.5) scale(0.970 1)" font-size="15.5" text-anchor="middle" font-family='"Liberation Sans", sans-serif' >keV</text>
<rect x="785.5" y="103.5" width="3.6" height="4.2" fill="#000"/>
<text transform="translate(781.3 110.5) scale(0.910 1)" font-size="19.5" text-anchor="end" font-family='"Liberation Sans", sans-serif' >70.0</text>
<rect x="785.8" y="162.8" width="3.6" height="4.2" fill="#000"/>
<text transform="translate(781.3 169.8) scale(0.910 1)" font-size="19.5" text-anchor="end" font-family='"Liberation Sans", sans-serif' >60.0</text>
<rect x="786.1" y="213.2" width="3.6" height="4.2" fill="#000"/>
<text transform="translate(781.3 220.2) scale(0.910 1)" font-size="19.5" text-anchor="end" font-family='"Liberation Sans", sans-serif' >50.0</text>
<rect x="786.4" y="272.5" width="3.6" height="4.2" fill="#000"/>
<text transform="translate(781.3 279.5) scale(0.910 1)" font-size="19.5" text-anchor="end" font-family='"Liberation Sans", sans-serif' >40.0</text>
<rect x="786.7" y="322.9" width="3.6" height="4.2" fill="#000"/>
<text transform="translate(781.3 329.9) scale(0.910 1)" font-size="19.5" text-anchor="end" font-family='"Liberation Sans", sans-serif' >30.0</text>
<rect x="787.0" y="382.9" width="3.6" height="4.2" fill="#000"/>
<text transform="translate(781.3 389.9) scale(0.910 1)" font-size="19.5" text-anchor="end" font-family='"Liberation Sans", sans-serif' >20.0</text>
<rect x="787.3" y="433.9" width="3.6" height="4.2" fill="#000"/>
<text transform="translate(781.3 440.9) scale(0.910 1)" font-size="19.5" text-anchor="end" font-family='"Liberation Sans", sans-serif' >10.0</text>
<rect x="787.6" y="492.9" width="3.6" height="4.2" fill="#000"/>
<text transform="translate(781.3 499.1) scale(0.910 1)" font-size="19.5" text-anchor="end" font-family='"Liberation Sans", sans-serif' >0.0</text>
<text transform="translate(733.0 282.0) rotate(-90)" font-size="20.0" text-anchor="middle" font-family='"Liberation Sans", sans-serif'>CPS</text>
<rect x="822.1" y="333.5" width="4.2" height="43.8" fill="#000"/>
<rect x="883.6" y="179.4" width="4.2" height="43.7" fill="#000"/>
<text transform="translate(829.0 309.0) scale(0.920 1)" font-size="28.5" text-anchor="middle" font-family='"Liberation Sans", sans-serif' >O</text>
<text transform="translate(887.5 155.0) scale(0.920 1)" font-size="28.5" text-anchor="middle" font-family='"Liberation Sans", sans-serif' >Si</text>
<text transform="translate(1326.5 125.6) scale(1.050 1)" font-size="34.2" text-anchor="end" font-family='"DejaVu Sans Condensed", "DejaVu Sans", "Liberation Sans", sans-serif' >001</text>
<text transform="translate(1326.5 168.5) scale(1.050 1)" font-size="34.2" text-anchor="end" font-family='"DejaVu Sans Condensed", "DejaVu Sans", "Liberation Sans", sans-serif' >004</text>
<text transform="translate(1326.5 211.4) scale(1.050 1)" font-size="34.2" text-anchor="end" font-family='"DejaVu Sans Condensed", "DejaVu Sans", "Liberation Sans", sans-serif' >005</text>
<text transform="translate(1326.5 254.3) scale(1.050 1)" font-size="34.2" text-anchor="end" font-family='"DejaVu Sans Condensed", "DejaVu Sans", "Liberation Sans", sans-serif' >008</text>
<text transform="translate(1326.5 297.2) scale(1.050 1)" font-size="34.2" text-anchor="end" font-family='"DejaVu Sans Condensed", "DejaVu Sans", "Liberation Sans", sans-serif' >010</text>
<text transform="translate(794.6 41.0) scale(1.050 1)" font-size="51.6" text-anchor="start" font-family='"DejaVu Sans Condensed", "DejaVu Sans", "Liberation Sans", sans-serif' >b</text>
</g>
<g>
<polygon points="1441.0,500.0 1441.3,495.5 1445.4,495.5 1454.7,482.1 1459.4,466.7 1463.9,347.1 1472.7,386.6 1477.7,488.3 1490.6,488.3 1496.8,479.5 1502.9,488.3 1506.4,488.3 1510.8,480.3 1515.7,400.5 1520.3,393.8 1525.7,393.8 1527.0,404.6 1531.1,230.3 1534.6,230.3 1540.0,291.0 1544.6,480.3 1548.6,488.3 1608.4,488.3 1613.5,445.1 1619.5,423.6 1623.1,423.6 1628.3,476.0 1631.4,485.2 1634.5,482.7 1639.2,482.7 1647.8,495.5 1651.0,495.5 1657.1,487.3 1662.2,495.5 1667.3,487.3 1672.5,495.5 1677.6,488.3 1682.7,488.3 1687.9,495.5 1693.0,487.3 1699.2,495.5 1718.0,495.5 1723.9,487.3 1730.1,495.5 1759.2,495.5 1765.2,487.3 1771.6,495.5 1982.0,495.5 1982.0,500.0" fill="#fb0007"/>
<rect x="1438.4" y="80.2" width="4.4" height="424.9" fill="#000"/>
<rect x="1438.4" y="80.2" width="545.9" height="4.3" fill="#000"/>
<rect x="1979.8" y="80.2" width="4.5" height="424.9" fill="#000"/>
<rect x="1441.0" y="495.6" width="541.5" height="4.4" fill="#fb0007"/>
<rect x="1494.7" y="500.0" width="4.2" height="5.1" fill="#000"/>
<rect x="1546.4" y="500.0" width="4.2" height="5.1" fill="#000"/>
<rect x="1603.0" y="500.0" width="4.2" height="5.1" fill="#000"/>
<rect x="1654.7" y="500.0" width="4.2" height="5.1" fill="#000"/>
<rect x="1711.5" y="500.0" width="4.2" height="5.1" fill="#000"/>
<rect x="1763.1" y="500.0" width="4.2" height="5.1" fill="#000"/>
<rect x="1819.7" y="500.0" width="4.2" height="5.1" fill="#000"/>
<rect x="1871.5" y="500.0" width="4.2" height="5.1" fill="#000"/>
<rect x="1928.3" y="500.0" width="4.2" height="5.1" fill="#000"/>
<text transform="translate(1446.9 536.0) scale(0.970 1)" font-size="16.3" text-anchor="middle" font-family='"Liberation Sans", sans-serif' >0.00</text>
<text transform="translate(1497.5 536.0) scale(0.970 1)" font-size="16.3" text-anchor="middle" font-family='"Liberation Sans", sans-serif' >1.00</text>
<text transform="translate(1555.0 536.0) scale(0.970 1)" font-size="16.3" text-anchor="middle" font-family='"Liberation Sans", sans-serif' >2.00</text>
<text transform="translate(1608.6 536.0) scale(0.970 1)" font-size="16.3" text-anchor="middle" font-family='"Liberation Sans", sans-serif' >3.00</text>
<text transform="translate(1666.7 536.0) scale(0.970 1)" font-size="16.3" text-anchor="middle" font-family='"Liberation Sans", sans-serif' >4.00</text>
<text transform="translate(1716.8 536.0) scale(0.970 1)" font-size="16.3" text-anchor="middle" font-family='"Liberation Sans", sans-serif' >5.00</text>
<text transform="translate(1774.9 536.0) scale(0.970 1)" font-size="16.3" text-anchor="middle" font-family='"Liberation Sans", sans-serif' >6.00</text>
<text transform="translate(1829.1 536.0) scale(0.970 1)" font-size="16.3" text-anchor="middle" font-family='"Liberation Sans", sans-serif' >7.00</text>
<text transform="translate(1882.7 536.0) scale(0.970 1)" font-size="16.3" text-anchor="middle" font-family='"Liberation Sans", sans-serif' >8.00</text>
<text transform="translate(1932.5 536.0) scale(0.970 1)" font-size="16.3" text-anchor="middle" font-family='"Liberation Sans", sans-serif' >9.00</text>
<text transform="translate(1978.6 536.0) scale(0.970 1)" font-size="16.3" text-anchor="middle" font-family='"Liberation Sans", sans-serif' >10.00</text>
<text transform="translate(1719.2 549.2) scale(0.970 1)" font-size="15.5" text-anchor="middle" font-family='"Liberation Sans", sans-serif' >keV</text>
<rect x="1435.0" y="96.4" width="3.6" height="4.2" fill="#000"/>
<text transform="translate(1399.0 103.7) scale(1.200 1)" font-size="16.4" text-anchor="start" font-family='"Liberation Sans", sans-serif' >45.0</text>
<rect x="1435.0" y="140.4" width="3.6" height="4.2" fill="#000"/>
<text transform="translate(1399.0 147.4) scale(1.200 1)" font-size="16.4" text-anchor="start" font-family='"Liberation Sans", sans-serif' >40.0</text>
<rect x="1435.0" y="184.4" width="3.6" height="4.2" fill="#000"/>
<text transform="translate(1399.0 191.8) scale(1.200 1)" font-size="16.4" text-anchor="start" font-family='"Liberation Sans", sans-serif' >35.0</text>
<rect x="1435.0" y="228.4" width="3.6" height="4.2" fill="#000"/>
<text transform="translate(1399.0 235.5) scale(1.200 1)" font-size="16.4" text-anchor="start" font-family='"Liberation Sans", sans-serif' >30.0</text>
<rect x="1435.0" y="272.9" width="3.6" height="4.2" fill="#000"/>
<text transform="translate(1399.0 279.5) scale(1.200 1)" font-size="16.4" text-anchor="start" font-family='"Liberation Sans", sans-serif' >25.0</text>
<rect x="1435.0" y="316.9" width="3.6" height="4.2" fill="#000"/>
<text transform="translate(1399.0 323.5) scale(1.200 1)" font-size="16.4" text-anchor="start" font-family='"Liberation Sans", sans-serif' >20.0</text>
<rect x="1435.0" y="361.4" width="3.6" height="4.2" fill="#000"/>
<text transform="translate(1399.0 367.5) scale(1.200 1)" font-size="16.4" text-anchor="start" font-family='"Liberation Sans", sans-serif' >15.0</text>
<rect x="1435.0" y="405.9" width="3.6" height="4.2" fill="#000"/>
<text transform="translate(1399.0 411.5) scale(1.200 1)" font-size="16.4" text-anchor="start" font-family='"Liberation Sans", sans-serif' >10.0</text>
<rect x="1435.0" y="451.1" width="3.6" height="4.2" fill="#000"/>
<text transform="translate(1399.0 456.7) scale(1.200 1)" font-size="16.4" text-anchor="start" font-family='"Liberation Sans", sans-serif' >5.0</text>
<rect x="1435.0" y="495.8" width="3.6" height="4.2" fill="#000"/>
<text transform="translate(1399.0 501.5) scale(1.200 1)" font-size="16.4" text-anchor="start" font-family='"Liberation Sans", sans-serif' >0.0</text>
<text transform="translate(1386.5 285.5) rotate(-90)" font-size="20.0" text-anchor="middle" font-family='"Liberation Sans", sans-serif'>CPS</text>
<rect x="1469.2" y="334.8" width="4.2" height="44.0" fill="#000"/>
<rect x="1520.9" y="349.6" width="4.2" height="44.2" fill="#000"/>
<rect x="1619.1" y="379.4" width="4.2" height="44.2" fill="#000"/>
<rect x="1634.2" y="438.4" width="4.2" height="44.7" fill="#000"/>
<rect x="1530.8" y="179.0" width="4.2" height="43.7" fill="#000"/>
<text transform="translate(1476.2 309.5) scale(0.920 1)" font-size="29.3" text-anchor="middle" font-family='"Liberation Sans", sans-serif' >O</text>
<text transform="translate(1524.0 325.3) scale(0.920 1)" font-size="29.3" text-anchor="middle" font-family='"Liberation Sans", sans-serif' >Al</text>
<text transform="translate(1625.0 354.1) scale(0.920 1)" font-size="29.3" text-anchor="middle" font-family='"Liberation Sans", sans-serif' >K</text>
<text transform="translate(1641.0 413.3) scale(0.920 1)" font-size="29.3" text-anchor="middle" font-family='"Liberation Sans", sans-serif' >K</text>
<text transform="translate(1535.0 154.0) scale(0.920 1)" font-size="29.3" text-anchor="middle" font-family='"Liberation Sans", sans-serif' >Si</text>
<text transform="translate(1973.5 130.3) scale(0.985 1)" font-size="35.0" text-anchor="end" font-family='"DejaVu Sans Condensed", "DejaVu Sans", "Liberation Sans", sans-serif' >002</text>
<text transform="translate(1973.5 174.7) scale(0.985 1)" font-size="35.0" text-anchor="end" font-family='"DejaVu Sans Condensed", "DejaVu Sans", "Liberation Sans", sans-serif' >003</text>
<text transform="translate(1451.2 59.2) scale(0.900 1)" font-size="50.0" text-anchor="start" font-family='"DejaVu Sans", "Liberation Sans", sans-serif' stroke="#000" stroke-width="1.1">c</text>
</g>
<g>
<polygon points="94.0,1022.4 94.9,1013.5 101.7,955.3 110.3,970.2 117.1,892.2 126.6,892.2 130.9,1010.8 139.0,1010.8 145.1,1002.0 150.8,1010.8 156.1,1003.8 208.6,1003.8 212.5,1010.4 217.7,1002.0 223.5,1010.8 263.7,1010.8 269.7,1002.0 275.5,1010.8 278.6,1010.8 279.9,1010.8 283.1,997.3 288.0,783.3 293.1,754.9 298.0,754.9 302.6,930.0 306.1,983.7 310.2,970.2 316.7,989.2 320.7,1009.5 322.7,1010.8 389.3,1010.8 394.0,1022.4 398.8,1010.8 415.5,1010.8 420.0,1019.3 425.0,1009.4 431.0,1017.7 434.5,1017.7 440.5,1009.4 447.2,1017.7 460.5,1017.7 466.5,1009.4 472.8,1017.7 527.9,1017.7 534.0,1009.4 540.2,1017.7 637.0,1017.7 637.0,1022.4" fill="#000"/>
<polygon points="101.7,1022.4 101.7,955.3 110.3,970.2 113.9,994.6 116.0,1022.4" fill="#fb0007"/>
<polygon points="117.1,1022.4 117.1,892.2 126.6,892.2 126.6,1022.4" fill="#fb0007"/>
<polygon points="283.1,1022.4 283.1,997.3 288.0,783.3 293.1,754.9 298.0,754.9 302.6,930.0 302.6,1022.4" fill="#fb0007"/>
<rect x="91.6" y="604.4" width="4.2" height="423.1" fill="#000"/>
<rect x="91.6" y="604.4" width="548.4" height="4.3" fill="#000"/>
<rect x="635.4" y="604.4" width="4.6" height="423.1" fill="#000"/>
<rect x="94.1" y="1018.0" width="544.0" height="4.4" fill="#000"/>
<rect x="101.7" y="1017.0" width="14.3" height="5.4" fill="#fb0007"/>
<rect x="117.1" y="1017.0" width="9.5" height="5.4" fill="#fb0007"/>
<rect x="283.1" y="1017.0" width="19.5" height="5.4" fill="#fb0007"/>
<rect x="148.0" y="1022.4" width="4.2" height="5.1" fill="#000"/>
<rect x="199.9" y="1022.4" width="4.2" height="5.1" fill="#000"/>
<rect x="257.1" y="1022.4" width="4.2" height="5.1" fill="#000"/>
<rect x="308.9" y="1022.4" width="4.2" height="5.1" fill="#000"/>
<rect x="365.7" y="1022.4" width="4.2" height="5.1" fill="#000"/>
<rect x="417.5" y="1022.4" width="4.2" height="5.1" fill="#000"/>
<rect x="474.5" y="1022.4" width="4.2" height="5.1" fill="#000"/>
<rect x="526.4" y="1022.4" width="4.2" height="5.1" fill="#000"/>
<rect x="583.3" y="1022.4" width="4.2" height="5.1" fill="#000"/>
<text x="106.6" y="1053.1" font-size="16.0" text-anchor="middle" font-family='"Liberation Sans", sans-serif' >0.00</text>
<text x="158.0" y="1053.1" font-size="16.0" text-anchor="middle" font-family='"Liberation Sans", sans-serif' >1.00</text>
<text x="217.3" y="1053.1" font-size="16.0" text-anchor="middle" font-family='"Liberation Sans", sans-serif' >2.00</text>
<text x="272.6" y="1053.1" font-size="16.0" text-anchor="middle" font-family='"Liberation Sans", sans-serif' >3.00</text>
<text x="331.8" y="1053.1" font-size="16.0" text-anchor="middle" font-family='"Liberation Sans", sans-serif' >4.00</text>
<text x="383.1" y="1053.1" font-size="16.0" text-anchor="middle" font-family='"Liberation Sans", sans-serif' >5.00</text>
<text x="442.2" y="1053.1" font-size="16.0" text-anchor="middle" font-family='"Liberation Sans", sans-serif' >6.00</text>
<text x="498.0" y="1053.1" font-size="16.0" text-anchor="middle" font-family='"Liberation Sans", sans-serif' >7.00</text>
<text x="552.9" y="1053.1" font-size="16.0" text-anchor="middle" font-family='"Liberation Sans", sans-serif' >8.00</text>
<text x="604.1" y="1053.1" font-size="16.0" text-anchor="middle" font-family='"Liberation Sans", sans-serif' >9.00</text>
<text x="651.1" y="1053.1" font-size="16.0" text-anchor="middle" font-family='"Liberation Sans", sans-serif' >10.00</text>
<text x="385.5" y="1066.4" font-size="15.5" text-anchor="middle" font-family='"Liberation Sans", sans-serif' >keV</text>
<rect x="88.2" y="634.3" width="3.6" height="4.2" fill="#000"/>
<text transform="translate(35.5 631.7) scale(1.090 1)" font-size="18.0" text-anchor="start" font-family='"Liberation Sans", sans-serif' >25.0</text>
<rect x="88.2" y="707.8" width="3.6" height="4.2" fill="#000"/>
<text transform="translate(35.5 711.1) scale(1.090 1)" font-size="18.0" text-anchor="start" font-family='"Liberation Sans", sans-serif' >20.0</text>
<rect x="88.2" y="787.9" width="3.6" height="4.2" fill="#000"/>
<text transform="translate(35.5 789.3) scale(1.090 1)" font-size="18.0" text-anchor="start" font-family='"Liberation Sans", sans-serif' >15.0</text>
<rect x="88.2" y="863.5" width="3.6" height="4.2" fill="#000"/>
<text transform="translate(35.5 868.7) scale(1.090 1)" font-size="18.0" text-anchor="start" font-family='"Liberation Sans", sans-serif' >10.0</text>
<rect x="88.2" y="936.9" width="3.6" height="4.2" fill="#000"/>
<text transform="translate(35.5 948.2) scale(1.090 1)" font-size="18.0" text-anchor="start" font-family='"Liberation Sans", sans-serif' >5.0</text>
<rect x="88.2" y="1018.2" width="3.6" height="4.2" fill="#000"/>
<text transform="translate(35.5 1026.9) scale(1.090 1)" font-size="18.0" text-anchor="start" font-family='"Liberation Sans", sans-serif' >0.0</text>
<text transform="translate(19.2 812.5) rotate(-90)" font-size="20.0" text-anchor="middle" font-family='"Liberation Sans", sans-serif'>CPS</text>
<rect x="107.1" y="924.3" width="4.2" height="44.1" fill="#000"/>
<rect x="122.3" y="843.3" width="4.2" height="43.7" fill="#000"/>
<rect x="309.0" y="924.3" width="4.2" height="44.1" fill="#000"/>
<rect x="293.4" y="709.9" width="4.2" height="44.2" fill="#000"/>
<text transform="translate(123.3 816.2) scale(0.890 1)" font-size="30.5" text-anchor="middle" font-family='"Liberation Sans", sans-serif' >O</text>
<text transform="translate(109.8 899.7) scale(0.890 1)" font-size="30.5" text-anchor="middle" font-family='"Liberation Sans", sans-serif' >C</text>
<text transform="translate(319.0 899.7) scale(0.890 1)" font-size="30.5" text-anchor="middle" font-family='"Liberation Sans", sans-serif' >Ca</text>
<text transform="translate(303.2 686.0) scale(0.890 1)" font-size="30.5" text-anchor="middle" font-family='"Liberation Sans", sans-serif' >Ca</text>
<text transform="translate(634.8 646.0) scale(1.070 1)" font-size="35.0" text-anchor="end" font-family='"DejaVu Sans Condensed", "DejaVu Sans", "Liberation Sans", sans-serif' >006</text>
<text transform="translate(634.8 689.8) scale(1.070 1)" font-size="35.0" text-anchor="end" font-family='"DejaVu Sans Condensed", "DejaVu Sans", "Liberation Sans", sans-serif' >011</text>
<text transform="translate(634.8 733.6) scale(1.070 1)" font-size="35.0" text-anchor="end" font-family='"DejaVu Sans Condensed", "DejaVu Sans", "Liberation Sans", sans-serif' >012</text>
<clipPath id="lcd"><rect x="79.3" y="538.6" width="80" height="80"/></clipPath><g clip-path="url(#lcd)">
<text transform="translate(89.3 574.4) scale(1.060 1)" font-size="51.0" text-anchor="start" font-family='"DejaVu Sans Condensed", "DejaVu Sans", "Liberation Sans", sans-serif' >d</text>
</g>
</g>
<g>
<polygon points="787.0,1010.3 787.0,1007.5 796.2,999.1 801.0,999.1 805.8,971.0 810.9,820.6 820.7,847.3 825.8,999.1 831.9,999.1 837.0,971.0 844.6,949.9 848.8,978.0 852.2,992.0 855.8,996.3 858.6,990.0 863.7,857.7 872.7,882.4 874.7,910.0 875.7,880.0 879.2,744.6 883.2,744.6 888.4,823.4 892.9,992.0 898.0,999.1 933.1,999.1 938.7,1008.9 943.8,997.1 950.0,1006.1 954.2,1006.1 959.3,999.1 971.1,999.1 975.3,1007.5 976.7,1007.5 983.7,991.5 991.3,991.5 997.8,999.1 1011.8,999.1 1016.0,1008.9 1022.2,997.1 1027.3,1006.1 1031.5,1006.1 1037.7,997.1 1043.6,1006.1 1334.0,1006.1 1334.0,1010.3" fill="#ff00ff"/>
<polygon points="810.9,1010.3 810.9,820.6 820.7,847.3 820.7,1010.3" fill="#fb0007"/>
<polygon points="837.0,1010.3 837.0,971.0 844.6,949.9 848.8,978.0 852.2,992.0 852.2,1010.3" fill="#fb0007"/>
<polygon points="858.1,1010.3 858.1,992.0 862.0,992.0 863.7,857.7 872.7,882.4 874.7,910.0 875.7,880.0 879.2,744.6 883.2,744.6 888.4,823.4 888.7,1010.3" fill="#fb0007"/>
<polygon points="976.7,1010.3 976.7,1007.5 983.7,991.5 991.3,991.5 997.8,1000.5 997.8,1010.3" fill="#fb0007"/>
<rect x="785.2" y="595.8" width="4.4" height="419.6" fill="#000"/>
<rect x="785.2" y="595.8" width="551.3" height="4.3" fill="#000"/>
<rect x="1332.0" y="595.8" width="4.5" height="419.6" fill="#000"/>
<rect x="787.8" y="1005.9" width="546.9" height="4.4" fill="#ff00ff"/>
<rect x="810.9" y="1004.9" width="9.8" height="5.4" fill="#fb0007"/>
<rect x="837.0" y="1004.9" width="15.2" height="5.4" fill="#fb0007"/>
<rect x="858.1" y="1004.9" width="30.6" height="5.4" fill="#fb0007"/>
<rect x="976.7" y="1004.9" width="21.1" height="5.4" fill="#fb0007"/>
<rect x="841.9" y="1010.3" width="4.2" height="5.1" fill="#000"/>
<rect x="894.5" y="1010.3" width="4.2" height="5.1" fill="#000"/>
<rect x="951.5" y="1010.3" width="4.2" height="5.1" fill="#000"/>
<rect x="1004.1" y="1010.3" width="4.2" height="5.1" fill="#000"/>
<rect x="1061.1" y="1010.3" width="4.2" height="5.1" fill="#000"/>
<rect x="1113.2" y="1010.3" width="4.2" height="5.1" fill="#000"/>
<rect x="1170.3" y="1010.3" width="4.2" height="5.1" fill="#000"/>
<rect x="1222.6" y="1010.3" width="4.2" height="5.1" fill="#000"/>
<rect x="1279.9" y="1010.3" width="4.2" height="5.1" fill="#000"/>
<text transform="translate(793.7 1039.8) scale(1.030 1)" font-size="16.0" text-anchor="middle" font-family='"Liberation Sans", sans-serif' >0.00</text>
<text transform="translate(846.0 1039.8) scale(1.030 1)" font-size="16.0" text-anchor="middle" font-family='"Liberation Sans", sans-serif' >1.00</text>
<text transform="translate(904.7 1039.8) scale(1.030 1)" font-size="16.0" text-anchor="middle" font-family='"Liberation Sans", sans-serif' >2.00</text>
<text transform="translate(960.2 1039.8) scale(1.030 1)" font-size="16.0" text-anchor="middle" font-family='"Liberation Sans", sans-serif' >3.00</text>
<text transform="translate(1019.9 1039.8) scale(1.030 1)" font-size="16.0" text-anchor="middle" font-family='"Liberation Sans", sans-serif' >4.00</text>
<text transform="translate(1070.9 1039.8) scale(1.030 1)" font-size="16.0" text-anchor="middle" font-family='"Liberation Sans", sans-serif' >5.00</text>
<text transform="translate(1130.6 1039.8) scale(1.030 1)" font-size="16.0" text-anchor="middle" font-family='"Liberation Sans", sans-serif' >6.00</text>
<text transform="translate(1186.2 1039.8) scale(1.030 1)" font-size="16.0" text-anchor="middle" font-family='"Liberation Sans", sans-serif' >7.00</text>
<text transform="translate(1241.3 1039.8) scale(1.030 1)" font-size="16.0" text-anchor="middle" font-family='"Liberation Sans", sans-serif' >8.00</text>
<text transform="translate(1292.5 1039.8) scale(1.030 1)" font-size="16.0" text-anchor="middle" font-family='"Liberation Sans", sans-serif' >9.00</text>
<text transform="translate(1339.9 1039.8) scale(1.030 1)" font-size="16.0" text-anchor="middle" font-family='"Liberation Sans", sans-serif' >10.00</text>
<text transform="translate(1073.2 1053.1) scale(1.030 1)" font-size="15.5" text-anchor="middle" font-family='"Liberation Sans", sans-serif' >keV</text>
<rect x="781.8" y="610.2" width="3.6" height="4.2" fill="#000"/>
<text x="730.5" y="623.7" font-size="19.8" text-anchor="start" font-family='"Liberation Sans", sans-serif' >45.0</text>
<rect x="781.8" y="654.9" width="3.6" height="4.2" fill="#000"/>
<text x="730.5" y="667.4" font-size="19.8" text-anchor="start" font-family='"Liberation Sans", sans-serif' >40.0</text>
<rect x="781.8" y="698.1" width="3.6" height="4.2" fill="#000"/>
<text x="730.5" y="711.1" font-size="19.8" text-anchor="start" font-family='"Liberation Sans", sans-serif' >35.0</text>
<rect x="781.8" y="743.0" width="3.6" height="4.2" fill="#000"/>
<text x="730.5" y="754.8" font-size="19.8" text-anchor="start" font-family='"Liberation Sans", sans-serif' >30.0</text>
<rect x="781.8" y="786.1" width="3.6" height="4.2" fill="#000"/>
<text x="730.5" y="798.0" font-size="19.8" text-anchor="start" font-family='"Liberation Sans", sans-serif' >25.0</text>
<rect x="781.8" y="830.3" width="3.6" height="4.2" fill="#000"/>
<text x="730.5" y="842.2" font-size="19.8" text-anchor="start" font-family='"Liberation Sans", sans-serif' >20.0</text>
<rect x="781.8" y="874.1" width="3.6" height="4.2" fill="#000"/>
<text x="730.5" y="886.1" font-size="19.8" text-anchor="start" font-family='"Liberation Sans", sans-serif' >15.0</text>
<rect x="781.8" y="918.3" width="3.6" height="4.2" fill="#000"/>
<text x="730.5" y="929.6" font-size="19.8" text-anchor="start" font-family='"Liberation Sans", sans-serif' >10.0</text>
<rect x="781.8" y="961.8" width="3.6" height="4.2" fill="#000"/>
<text x="730.5" y="973.8" font-size="19.8" text-anchor="start" font-family='"Liberation Sans", sans-serif' >5.0</text>
<rect x="781.8" y="1006.2" width="3.6" height="4.2" fill="#000"/>
<text x="730.5" y="1017.3" font-size="19.8" text-anchor="start" font-family='"Liberation Sans", sans-serif' >0.0</text>
<text transform="translate(718.5 803.7) rotate(-90)" font-size="20.0" text-anchor="middle" font-family='"Liberation Sans", sans-serif'>CPS</text>
<rect x="816.2" y="795.0" width="4.2" height="44.4" fill="#000"/>
<rect x="842.5" y="906.3" width="4.2" height="42.7" fill="#000"/>
<rect x="868.6" y="832.4" width="4.2" height="43.8" fill="#000"/>
<rect x="988.6" y="942.3" width="4.2" height="43.6" fill="#000"/>
<rect x="1004.1" y="949.9" width="4.2" height="43.5" fill="#000"/>
<rect x="879.1" y="700.7" width="4.2" height="43.9" fill="#000"/>
<text transform="translate(819.5 780.3) scale(0.910 1)" font-size="29.5" text-anchor="middle" font-family='"Liberation Sans", sans-serif' >O</text>
<text transform="translate(839.4 880.2) scale(0.910 1)" font-size="29.5" text-anchor="middle" font-family='"Liberation Sans", sans-serif' >Na</text>
<text transform="translate(859.0 823.4) scale(0.910 1)" font-size="29.5" text-anchor="middle" font-family='"Liberation Sans", sans-serif' >Al</text>
<text transform="translate(984.4 924.6) scale(0.910 1)" font-size="29.5" text-anchor="middle" font-family='"Liberation Sans", sans-serif' >Ca</text>
<text transform="translate(1022.8 938.1) scale(0.910 1)" font-size="29.5" text-anchor="middle" font-family='"Liberation Sans", sans-serif' >Ca</text>
<text transform="translate(880.5 688.1) scale(0.910 1)" font-size="29.5" text-anchor="middle" font-family='"Liberation Sans", sans-serif' >Si</text>
<text transform="translate(1321.5 648.4) scale(1.040 1)" font-size="35.0" text-anchor="end" font-family='"DejaVu Sans Condensed", "DejaVu Sans", "Liberation Sans", sans-serif' >007</text>
<text transform="translate(1321.5 692.3) scale(1.040 1)" font-size="35.0" text-anchor="end" font-family='"DejaVu Sans Condensed", "DejaVu Sans", "Liberation Sans", sans-serif' >009</text>
<text x="795.0" y="565.5" font-size="51.0" text-anchor="start" font-family='"DejaVu Sans Condensed", "DejaVu Sans", "Liberation Sans", sans-serif' >e</text>
</g>
</svg>
</body></html>
